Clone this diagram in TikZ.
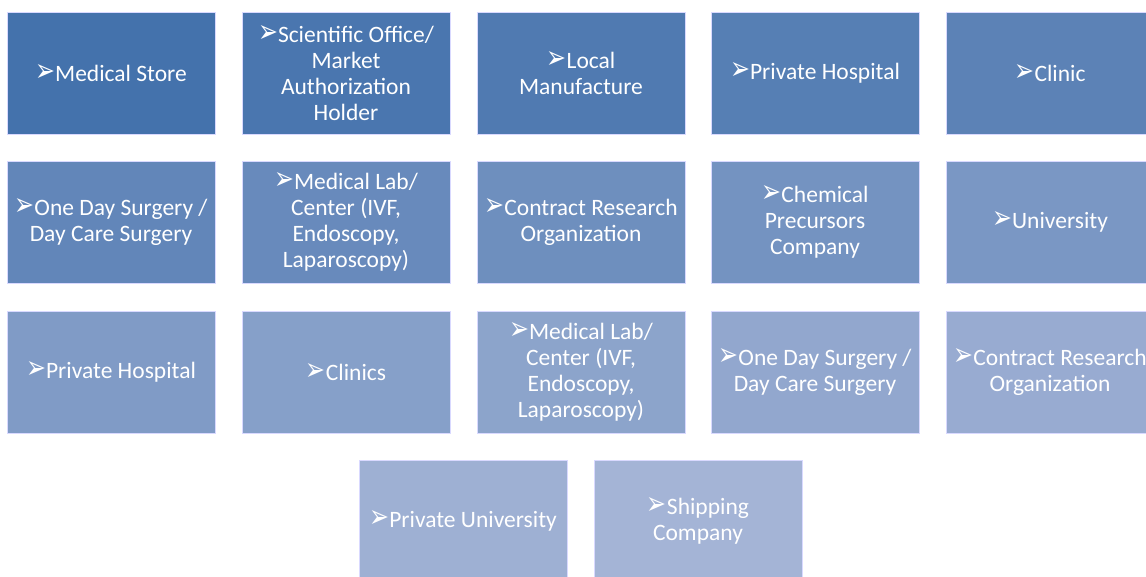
\documentclass[tikz,border=0pt]{standalone}
\usepackage{fontspec}
\usepackage{graphicx}
\setmainfont{Carlito}
\newfontfamily\dejavu{DejaVu Sans}
\definecolor{cstart}{RGB}{68,114,172}
\definecolor{cend}{RGB}{164,180,214}
\newcommand{\arr}{\raisebox{0pt}{\resizebox{20pt}{17pt}{\dejavu ➢}}}
\tikzset{
  box/.style={rectangle, draw=white!85!blue, line width=0.6pt, minimum width=208pt, minimum height=122pt,
    text=white, align=center, inner sep=2pt, font=\fontsize{23.5}{26}\selectfont, fill=cend!#1!cstart}
}
\begin{document}
\begin{tikzpicture}[x=1pt,y=1pt]
\path[use as bounding box] (0,0) rectangle (1146,577);
\clip (0,0) rectangle (1146,577);
\node[box=0]    (b1)  at (111,504)  {\arr Medical Store};
\node[box=6]    (b2)  at (346,504)  {\arr Scientific Office/\\Market\\Authorization\\Holder};
\node[box=12]   (b3)  at (581,504)  {\arr Local\\Manufacture};
\node[box=19]   (b4)  at (815,504)  {\arr Private Hospital};
\node[box=25]   (b5)  at (1050,504) {\arr Clinic};
\node[box=31]   (b6)  at (111,355)  {\arr One Day Surgery /\\Day Care Surgery};
\node[box=37]   (b7)  at (346,355)  {\arr Medical Lab/\\Center (IVF,\\Endoscopy,\\Laparoscopy)};
\node[box=44]   (b8)  at (581,355)  {\arr Contract Research\\Organization};
\node[box=50]   (b9)  at (815,355)  {\arr Chemical\\Precursors\\Company};
\node[box=56]   (b10) at (1050,355) {\arr University};
\node[box=62]   (b11) at (111,205)  {\arr Private Hospital};
\node[box=69]   (b12) at (346,205)  {\arr Clinics};
\node[box=75]   (b13) at (581,205)  {\arr Medical Lab/\\Center (IVF,\\Endoscopy,\\Laparoscopy)};
\node[box=81]   (b14) at (815,205)  {\arr One Day Surgery /\\Day Care Surgery};
\node[box=87]   (b15) at (1050,205) {\arr Contract Research\\Organization};
\node[box=94]   (b16) at (463,56)   {\arr Private University};
\node[box=100]  (b17) at (698,56)   {\arr Shipping\\Company};
\end{tikzpicture}
\end{document}
